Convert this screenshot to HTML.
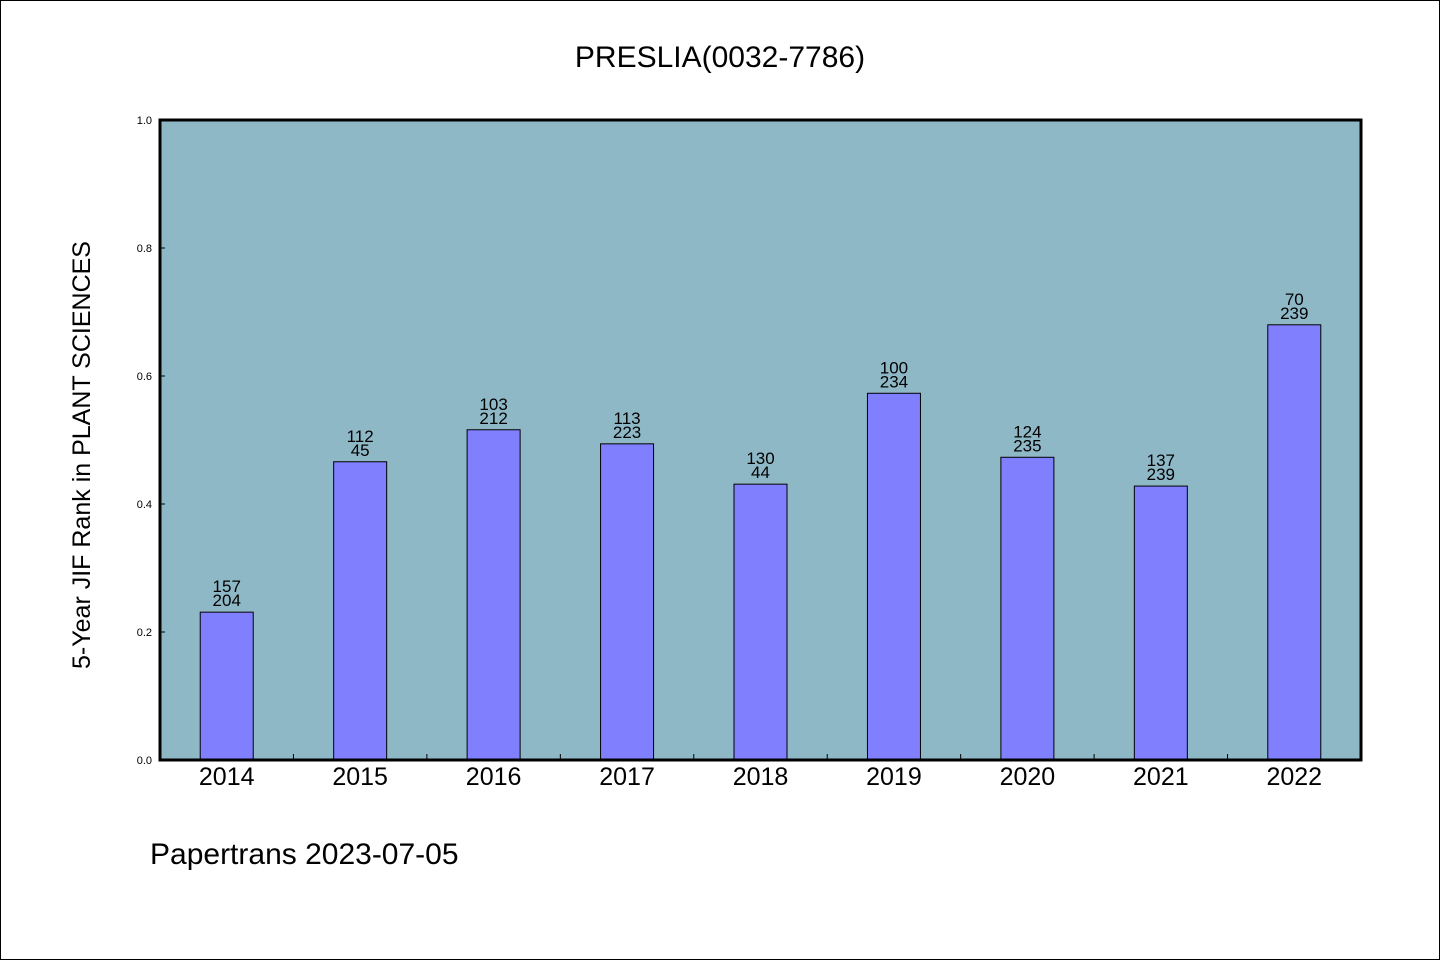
<!DOCTYPE html>
<html><head><meta charset="utf-8"><style>
body{margin:0;background:#fff}
svg text{font-family:"WenQuanYi Zen Hei","Liberation Sans",sans-serif;fill:#000}
</style></head><body>
<svg width="1440" height="960" xmlns="http://www.w3.org/2000/svg">
<rect x="0.5" y="0.5" width="1439" height="959" fill="#fff" stroke="#000"/>
<text x="720" y="67" font-size="30" text-anchor="middle">PRESLIA(0032-7786)</text>
<rect x="160" y="120" width="1201" height="640" fill="#8fb8c7"/>
<g id="marks"></g>
<rect x="160" y="120" width="1201" height="640" fill="none" stroke="#000" stroke-width="3"/>
<text transform="translate(90,455) rotate(-90)" font-size="25" text-anchor="middle">5-Year JIF Rank in PLANT SCIENCES</text>
<text x="150" y="864" font-size="30">Papertrans 2023-07-05</text>
</svg>
<script>
const categories=["2014","2015","2016","2017","2018","2019","2020","2021","2022"];
const values=[0.231,0.466,0.516,0.494,0.431,0.573,0.473,0.428,0.680];
const ranks=["157","112","103","113","130","100","124","137","70"];
const totals=["204","45","212","223","44","234","235","239","239"];
const yTicks=[0,0.2,0.4,0.6,0.8,1.0];
const NS="http://www.w3.org/2000/svg";
const g=document.getElementById('marks');
const X0=160,W=1201,Y0=760,H=640;
const slot=W/categories.length;
const xs=i=>X0+slot*(i+0.5);
const ys=v=>Y0-v*H;
function mk(t,a){const e=document.createElementNS(NS,t);for(const k in a)e.setAttribute(k,a[k]);g.appendChild(e);return e;}
yTicks.forEach(v=>{
  const l=mk('line',{x1:X0,x2:X0+5,y1:ys(v),y2:ys(v),stroke:'#000'});
  
  
  const t=mk('text',{x:X0-8,y:ys(v)+4,'font-size':11,'text-anchor':'end'});
  t.textContent=v.toFixed(1);
  
  
});
categories.forEach((c,i)=>{
  if(i>0){const tk=mk('line',{x1:X0+slot*i,x2:X0+slot*i,y1:Y0,y2:Y0-6,stroke:'#000'});
  
  }
  const bw=53;
  const b=mk('rect',{x:xs(i)-bw/2,y:ys(values[i]),width:bw,height:values[i]*H,fill:'#8080ff',stroke:'#000','stroke-width':1});
  
  
  const t1=mk('text',{x:xs(i),y:ys(values[i])-20,'font-size':17,'text-anchor':'middle'});
  t1.textContent=ranks[i];
  
  
  const t2=mk('text',{x:xs(i),y:ys(values[i])-6,'font-size':17,'text-anchor':'middle'});
  t2.textContent=totals[i];
  
  
  const xl=mk('text',{x:xs(i),y:785,'font-size':25,'text-anchor':'middle'});
  xl.textContent=c;
  
  
});
</script>
</body></html>
